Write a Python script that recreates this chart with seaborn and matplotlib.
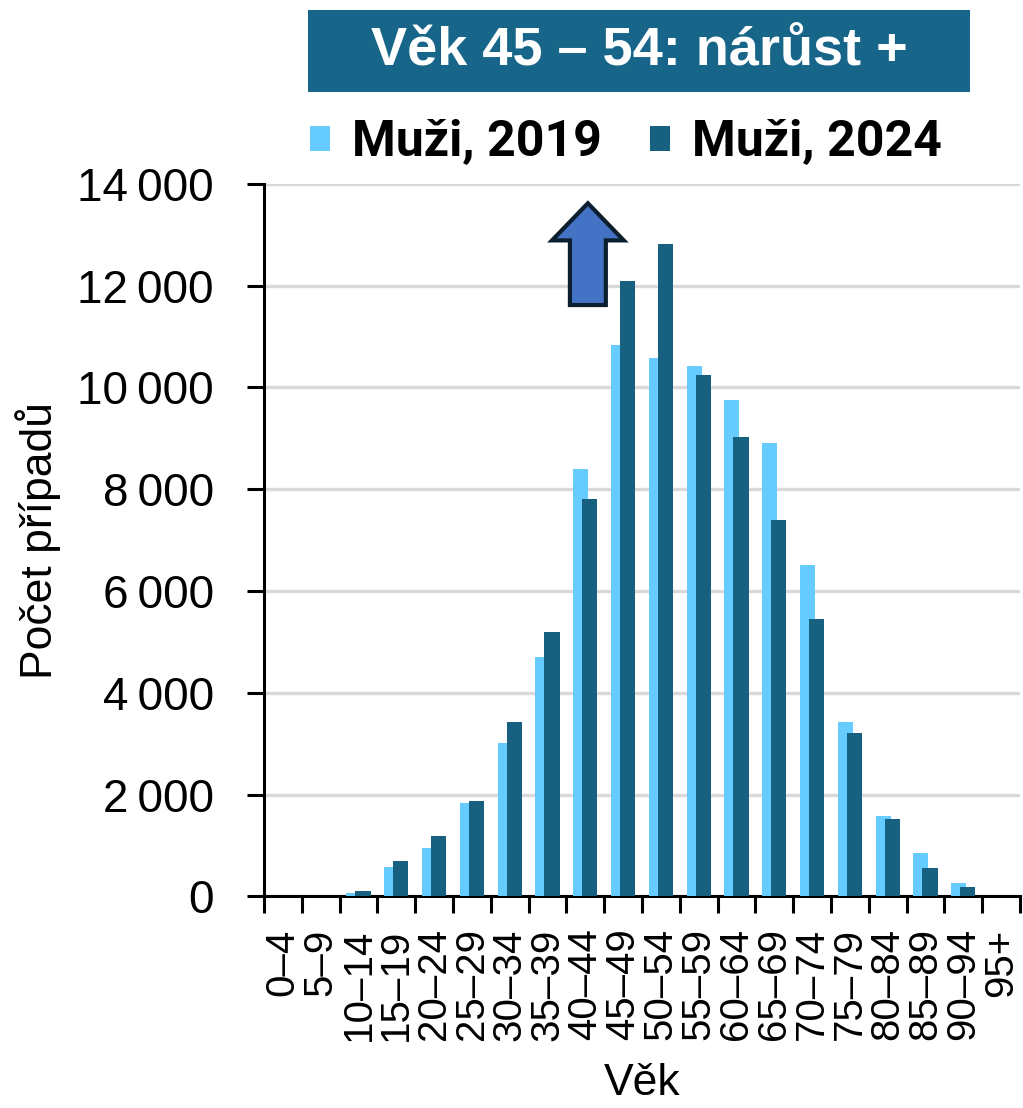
import pandas as pd
import seaborn as sns
import matplotlib.pyplot as plt
from matplotlib.patches import FancyArrow, Rectangle
from matplotlib.ticker import FuncFormatter

vekove_skupiny = ['0–4', '5–9', '10–14', '15–19', '20–24', '25–29', '30–34', '35–39',
                  '40–44', '45–49', '50–54', '55–59', '60–64', '65–69', '70–74',
                  '75–79', '80–84', '85–89', '90–94', '95+']
muzi_2019 = [0, 0, 70, 570, 950, 1830, 3020, 4710, 8390, 10840, 10580, 10420,
             9750, 8900, 6510, 3430, 1580, 860, 270, 0]
muzi_2024 = [0, 0, 110, 700, 1190, 1870, 3430, 5200, 7810, 12100, 12820, 10250,
             9030, 7390, 5450, 3220, 1530, 560, 190, 0]
roky = ['Muži, 2019', 'Muži, 2024']
barvy = ['#66CCFF', '#17607F']

data = pd.DataFrame({
    'Věk': vekove_skupiny * 2,
    'Počet': muzi_2019 + muzi_2024,
    'Rok': [roky[0]] * len(vekove_skupiny) + [roky[1]] * len(vekove_skupiny),
})

sns.set_style('white')
plt.rcParams['font.family'] = ['Liberation Sans', 'DejaVu Sans']
plt.rcParams['text.color'] = 'black'
plt.rcParams['axes.labelcolor'] = 'black'
plt.rcParams['xtick.color'] = 'black'
plt.rcParams['ytick.color'] = 'black'

fig = plt.figure(figsize=(10.23, 11.08), dpi=100)
ax = fig.add_axes([0.258, 0.191, 0.739, 0.643])

sns.barplot(data=data, x='Věk', y='Počet', hue='Rok', palette=barvy, saturation=1,
            width=0.48, gap=-0.667, linewidth=0, ax=ax, zorder=3)

ax.set_ylim(0, 14000)
ax.set_xlim(-0.5, len(vekove_skupiny) - 0.5)
ax.set_yticks(range(0, 14001, 2000))
ax.yaxis.set_major_formatter(FuncFormatter(lambda v, p: f'{int(v):,}'.replace(',', '\u2009')))
ax.grid(axis='y', color='#D9D9D9', linewidth=2.4, zorder=0)
ax.set_axisbelow(True)
for s in ['top', 'right']:
    ax.spines[s].set_visible(False)
for s in ['left', 'bottom']:
    ax.spines[s].set_linewidth(2.2)
    ax.spines[s].set_color('black')

ax.tick_params(axis='y', labelsize=33, length=12, width=2.2, direction='out', left=True, pad=24)
ax.tick_params(axis='x', which='major', labelsize=29, length=0, rotation=90, pad=23)
ax.set_xticks([i - 0.5 for i in range(len(vekove_skupiny) + 1)], minor=True)
ax.tick_params(axis='x', which='minor', length=12, width=2.2, bottom=True)

ax.set_xlabel('Věk', fontsize=32, labelpad=16)
ax.set_ylabel('Počet případů', fontsize=32, labelpad=12)

handles, labels = ax.get_legend_handles_labels()
ax.get_legend().remove()
fig.legend(handles, labels, loc='center', bbox_to_anchor=(0.612, 0.871), ncol=2,
           frameon=False, handlelength=0.4, handleheight=0.4, handletextpad=0.45,
           columnspacing=0.95,
           prop={'family': ['Roboto', 'DejaVu Sans'], 'weight': 'bold', 'size': 36})

# šipka nad skupinou 45–54
ax.add_patch(FancyArrow(8.07, 11620, 0, 2000, width=0.95, head_width=1.9,
                        head_length=730, length_includes_head=True,
                        facecolor='#4472C4', edgecolor='#0B1F2E', linewidth=3,
                        zorder=5, clip_on=False))

# titulek v barevném rámečku
fig.patches.append(Rectangle((0.301, 0.917), 0.647, 0.074, transform=fig.transFigure,
                             facecolor='#17668A', edgecolor='none'))
fig.text(0.625, 0.954, 'Věk 45 – 54: nárůst +', color='white', fontsize=39,
         fontweight='bold', ha='center', va='center',
         family=['Liberation Sans Narrow', 'Liberation Sans', 'DejaVu Sans'])

fig.savefig('out.png', dpi=100)
